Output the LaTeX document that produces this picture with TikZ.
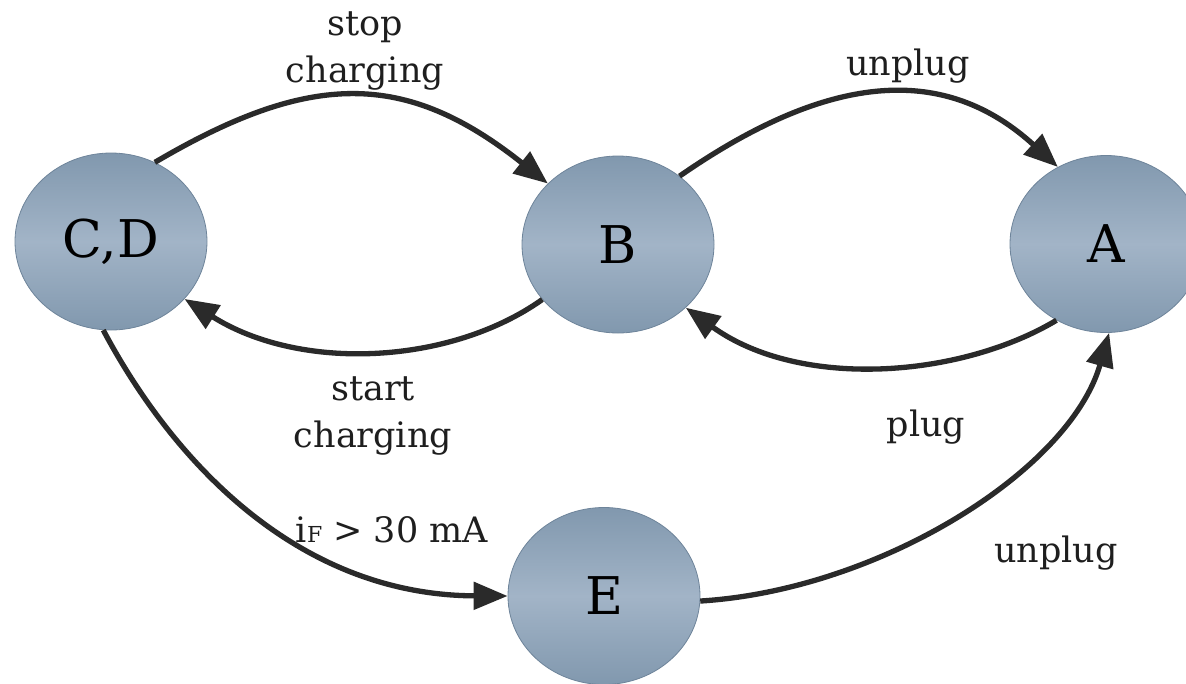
\documentclass[tikz,border=0pt]{standalone}
\usepackage{fontspec}
\setmainfont{DejaVu Serif}
\usetikzlibrary{shapes.geometric,arrows.meta}
\definecolor{stateedge}{HTML}{6E849A}
\definecolor{statedark}{HTML}{8198AE}
\definecolor{statelight}{HTML}{A2B4C7}
\definecolor{linegray}{HTML}{2A2A2A}
\definecolor{labelgray}{HTML}{1E1E1E}
\begin{document}
\begin{tikzpicture}[x=1pt,y=-1pt,
  state/.style={ellipse, minimum width=192pt, minimum height=177pt, inner sep=0pt,
    draw=stateedge, line width=0.8pt,
    top color=statedark, bottom color=statedark, middle color=statelight,
    font=\fontsize{52}{52}\selectfont},
  trans/.style={line width=5.3pt, draw=linegray,
    -{Triangle[length=34pt,width=27pt]}},
  lbl/.style={font=\fontsize{35}{47}\selectfont, text=labelgray,
    align=center, inner sep=0pt, anchor=base}]
  \clip (0,0) rectangle (1186,683);
  \useasboundingbox (0,0) rectangle (1186,683);

  % states
  \node[state] (CD) at (111,241.5) {C,D};
  \node[state] (B)  at (618,244.5) {B};
  \node[state] (A)  at (1106,244)  {A};
  \node[state] (E)  at (604,596)   {E};

  % transitions
  \draw[trans] (CD.61) .. controls (310,71) and (405,70) .. (B.139);
  \draw[trans] (B.216) .. controls (450,365) and (300,372) .. (CD.-38);
  \draw[trans] (B.48) .. controls (834,69) and (947,66) .. (A.122);
  \draw[trans] (A.237) .. controls (960,378) and (800,390) .. (B.-43);
  \draw[trans] (CD.265) .. controls (175,465) and (300,595) .. (E.180);
  \draw[trans] (E.-3) .. controls (880,590) and (1070,470) .. (A.272);

  % transition labels (base = baseline of the last line)
  \node[lbl] (lstop)   at (365,82)  {stop\\charging};
  \node[lbl] (lstart)  at (373,447) {start\\charging};
  \node[lbl] (lunpl1)  at (908,75)  {unplug};
  \node[lbl] (lplug)   at (926,436) {plug};
  \node[lbl] (lunpl2)  at (1056,562) {unplug};
  \node[lbl] (lfault)  at (392,542) {i{\fontsize{22}{22}\selectfont F} > 30 mA};
\end{tikzpicture}
\end{document}
